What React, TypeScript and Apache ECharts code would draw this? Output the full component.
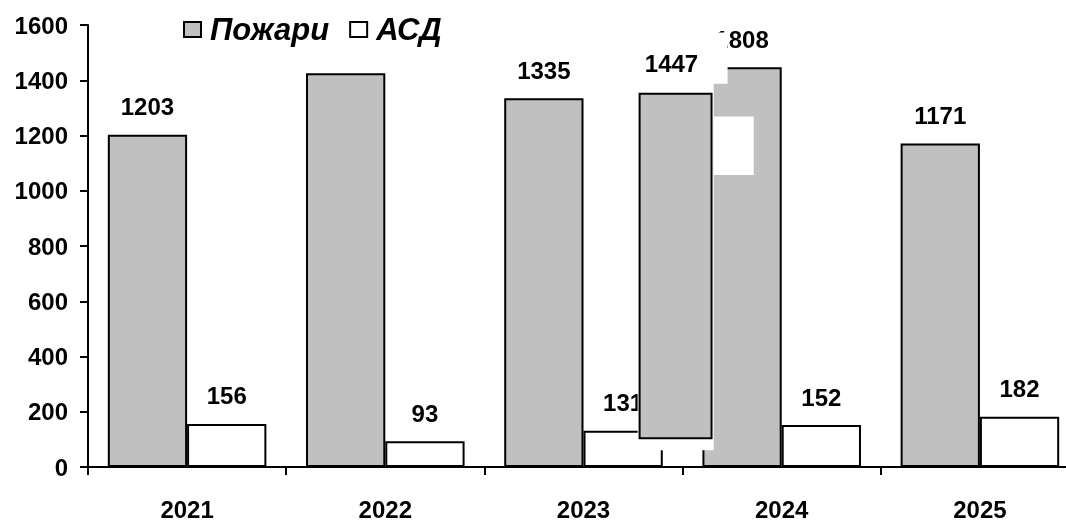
import React, { useEffect, useRef } from "react";
import * as echarts from "echarts";

const years = ["2021", "2022", "2023", "2024", "2025"];
const firesName = "Пожари";
const asdName = "АСД";
const fires = [1203, 1425, 1335, 1447, 1171];
const firesLabels = ["1203", "", "1335", "1808", "1171"];
const asd = [156, 93, 131, 152, 182];
const asdLabels = ["156", "93", "131", "152", "182"];
const yTicks = [0, 200, 400, 600, 800, 1000, 1200, 1400, 1600];

// pasted-over fragment seen in the reference around 2024
const patchCategory = 3;
const patchBarRange = [104, 1351];
const patchLabel = "1447";
const patchLabelValue = 1462;
const patchWhiteTop = [1387, 1573];
const patchWhiteSide = [61, 1573];
const patchWhiteInner = [1057, 1269];

const FONT = "'Liberation Sans', Arial, sans-serif";

export default function App() {
  const ref = useRef<HTMLDivElement>(null);
  useEffect(() => {
    if (!ref.current) return;
    const chart = echarts.init(ref.current, null, { renderer: "svg" });
    const barLabel = (texts: string[]) => ({
      show: true,
      position: "top",
      distance: 16,
      color: "#000",
      fontFamily: FONT,
      fontWeight: "bold",
      fontSize: 24,
      formatter: (p: any) => texts[p.dataIndex],
    });
    chart.setOption({
      animation: false,
      textStyle: { fontFamily: FONT },
      legend: {
        data: [firesName, asdName],
        left: 183,
        top: 14,
        padding: 0,
        itemWidth: 17,
        itemHeight: 15,
        itemGap: 20,
        icon: "rect",
        textStyle: {
          fontFamily: FONT,
          fontSize: 31,
          fontWeight: "bold",
          fontStyle: "italic",
          color: "#000",
          padding: [0, 0, 0, 4],
        },
      },
      grid: { left: 88, right: 0, top: 25, bottom: 49, containLabel: false },
      xAxis: {
        type: "category",
        data: years,
        axisLine: { lineStyle: { color: "#000", width: 2 } },
        axisTick: { show: true, length: 8, lineStyle: { color: "#000", width: 2 } },
        axisLabel: {
          margin: 30,
          color: "#000",
          fontFamily: FONT,
          fontWeight: "bold",
          fontSize: 24,
        },
      },
      yAxis: {
        type: "value",
        min: yTicks[0],
        max: yTicks[yTicks.length - 1],
        interval: 200,
        splitLine: { show: false },
        axisLine: { show: true, lineStyle: { color: "#000", width: 2 } },
        axisTick: { show: true, length: 8, lineStyle: { color: "#000", width: 2 } },
        axisLabel: {
          margin: 20,
          color: "#000",
          fontFamily: FONT,
          fontWeight: "bold",
          fontSize: 24,
          formatter: (v: number) => String(v),
        },
      },
      series: [
        {
          name: firesName,
          type: "bar",
          data: fires,
          barGap: "0%",
          barCategoryGap: "20%",
          itemStyle: { color: "#C0C0C0", borderColor: "#000", borderWidth: 2 },
          label: barLabel(firesLabels),
        },
        {
          name: asdName,
          type: "bar",
          data: asd,
          itemStyle: { color: "#FFFFFF", borderColor: "#000", borderWidth: 2 },
          label: barLabel(asdLabels),
        },
        {
          type: "custom",
          z: 10,
          silent: true,
          data: [[patchCategory, patchBarRange[0], patchBarRange[1]]],
          encode: { x: 0, y: [1, 2] },
          renderItem: (params: any, api: any) => {
            const cat = api.value(0);
            const bw = api.size([1, 0])[0];
            const cx = api.coord([cat, 0])[0];
            const yv = (v: number) => api.coord([cat, v])[1];
            const rect = (x0: number, x1: number, v0: number, v1: number, style: any) => {
              const ya = yv(v1);
              const yb = yv(v0);
              return {
                type: "rect",
                shape: { x: cx + x0 * bw, y: ya, width: (x1 - x0) * bw, height: yb - ya },
                style,
              };
            };
            const white = { fill: "#fff", stroke: null };
            return {
              type: "group",
              children: [
                rect(-0.727, -0.273, patchWhiteTop[0], patchWhiteTop[1], white),
                rect(-0.727, -0.343, patchWhiteSide[0], patchWhiteSide[1], white),
                rect(-0.343, -0.141, patchWhiteInner[0], patchWhiteInner[1], white),
                rect(-0.717, -0.354, api.value(1), api.value(2), {
                  fill: "#C0C0C0",
                  stroke: "#000",
                  lineWidth: 2,
                }),
                {
                  type: "text",
                  style: {
                    x: cx - 0.556 * bw,
                    y: yv(patchLabelValue),
                    text: patchLabel,
                    fill: "#000",
                    font: `bold 24px ${FONT}`,
                    align: "center",
                    verticalAlign: "middle",
                  },
                },
              ],
            };
          },
        },
      ],
    });
    return () => chart.dispose();
  }, []);
  return (
    <div
      style={{
        position: "fixed",
        left: 0,
        top: 0,
        width: 1066,
        height: 521,
        overflow: "hidden",
      }}
    >
      <div ref={ref} style={{ width: 1079, height: 521 }} />
    </div>
  );
}
